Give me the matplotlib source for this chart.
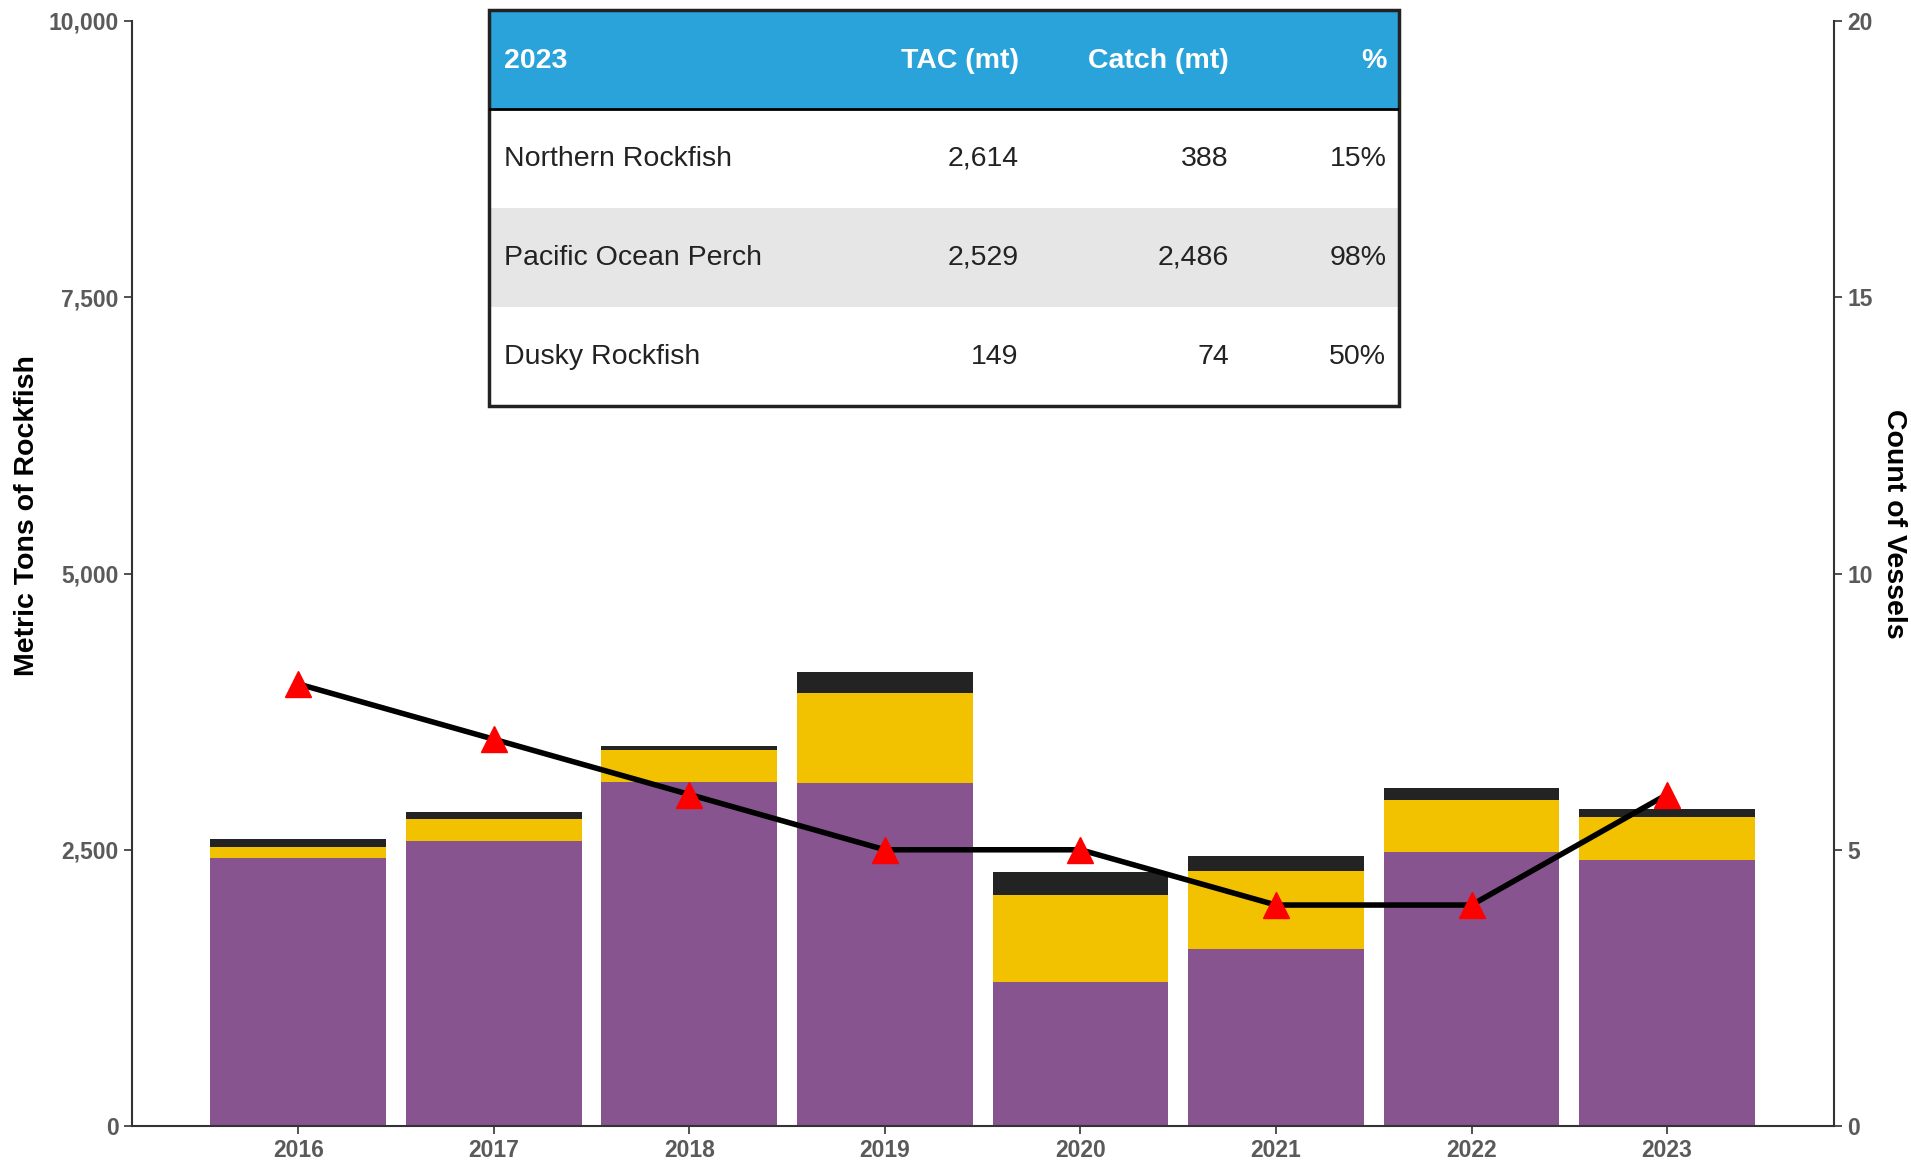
import matplotlib
matplotlib.use("Agg")
import matplotlib.pyplot as plt
from matplotlib.patches import Rectangle
from matplotlib.ticker import FuncFormatter

plt.rcParams['font.family'] = ['Liberation Sans', 'DejaVu Sans']

years = ["2016", "2017", "2018", "2019", "2020", "2021", "2022", "2023"]
pop_catch = [2430, 2575, 3115, 3100, 1305, 1600, 2480, 2410]        # purple
northern_catch = [92, 200, 290, 815, 785, 705, 470, 385]             # yellow
dusky_catch = [73, 70, 33, 195, 213, 141, 112, 72]                   # black
vessels = [8, 7, 6, 5, 5, 4, 4, 6]

table_cols = ["2023", "TAC (mt)", "Catch (mt)", "%"]
table_species = ["Northern Rockfish", "Pacific Ocean Perch", "Dusky Rockfish"]
table_tac = ["2,614", "2,529", "149"]
table_catch = ["388", "2,486", "74"]
table_pct = ["15%", "98%", "50%"]

PURPLE = "#87548f"
YELLOW = "#f2c200"
DARK = "#232323"
BLUE = "#29a3d9"
TICK_GRAY = "#5a5a5a"

fig = plt.figure(figsize=(19.11, 11.64), dpi=100)
ax = fig.add_axes([0.069, 0.0326, 0.8907, 0.9494])

x = list(range(len(years)))
ax.bar(x, pop_catch, width=0.9, color=PURPLE, zorder=2)
ax.bar(x, northern_catch, width=0.9, bottom=pop_catch, color=YELLOW, zorder=2)
base2 = [a + b for a, b in zip(pop_catch, northern_catch)]
ax.bar(x, dusky_catch, width=0.9, bottom=base2, color=DARK, zorder=2)

ax.set_xlim(-0.852, 7.854)
ax.set_ylim(0, 10000)
ax.set_yticks([0, 2500, 5000, 7500, 10000])
ax.yaxis.set_major_formatter(FuncFormatter(lambda v, p: f"{int(v):,}"))
ax.set_xticks(x)
ax.set_xticklabels(years)
ax.spines['top'].set_visible(False)
ax.spines['right'].set_visible(False)
for s in ("left", "bottom"):
    ax.spines[s].set_color("#333333")
    ax.spines[s].set_linewidth(1.5)
ax.tick_params(axis="both", colors="#333333", length=6, width=1.2,
               labelcolor=TICK_GRAY, labelsize=16.5)
ax.tick_params(axis="x", pad=3)
for lbl in ax.get_xticklabels() + ax.get_yticklabels():
    lbl.set_fontweight("bold")

ax2 = ax.twinx()
ax2.plot(x, vessels, color="black", linewidth=4, zorder=3)
ax2.plot(x, vessels, linestyle="none", marker="^", markersize=19,
         color="#ff0000", zorder=4)
ax2.set_ylim(0, 20)
ax2.set_yticks([0, 5, 10, 15, 20])
ax2.spines['top'].set_visible(False)
ax2.spines['left'].set_visible(False)
ax2.spines['bottom'].set_visible(False)
ax2.spines['right'].set_color("#333333")
ax2.spines['right'].set_linewidth(1.5)
ax2.tick_params(axis="y", colors="#333333", length=6, width=1.2,
                labelcolor=TICK_GRAY, labelsize=16.5)
for lbl in ax2.get_yticklabels():
    lbl.set_fontweight("bold")

fig.text(0.014, 0.557, "Metric Tons of Rockfish", rotation=90, ha="center",
         va="center", fontsize=20.5, fontweight="bold")
fig.text(0.991, 0.55, "Count of Vessels", rotation=270, ha="center",
         va="center", fontsize=20.5, fontweight="bold")

# summary table
tax = fig.add_axes([0.2559, 0.6512, 0.4762, 0.3402])
tax.set_xlim(0, 1)
tax.set_ylim(0, 4)
tax.axis("off")
tax.add_patch(Rectangle((0, 3), 1, 1, facecolor=BLUE, edgecolor="none"))
tax.add_patch(Rectangle((0, 2), 1, 1, facecolor="white", edgecolor="none"))
tax.add_patch(Rectangle((0, 1), 1, 1, facecolor="#e6e6e6", edgecolor="none"))
tax.add_patch(Rectangle((0, 0), 1, 1, facecolor="white", edgecolor="none"))
tax.plot([0, 1], [3, 3], color="black", linewidth=2)
tax.add_patch(Rectangle((0, 0), 1, 4, facecolor="none", edgecolor="#222222",
                        linewidth=2.5, clip_on=False))

col_x = [0.016, 0.582, 0.813, 0.986]
col_ha = ["left", "right", "right", "right"]
for cx, ha, txt in zip(col_x, col_ha, table_cols):
    tax.text(cx, 3.48, txt, ha=ha, va="center", color="white",
             fontsize=20.5, fontweight="bold")
for i in range(len(table_species)):
    yy = 2.5 - i
    row = [table_species[i], table_tac[i], table_catch[i], table_pct[i]]
    for cx, ha, txt in zip(col_x, col_ha, row):
        tax.text(cx, yy, txt, ha=ha, va="center", color="#222222", fontsize=20.5)

fig.savefig("out.png", dpi=100)
